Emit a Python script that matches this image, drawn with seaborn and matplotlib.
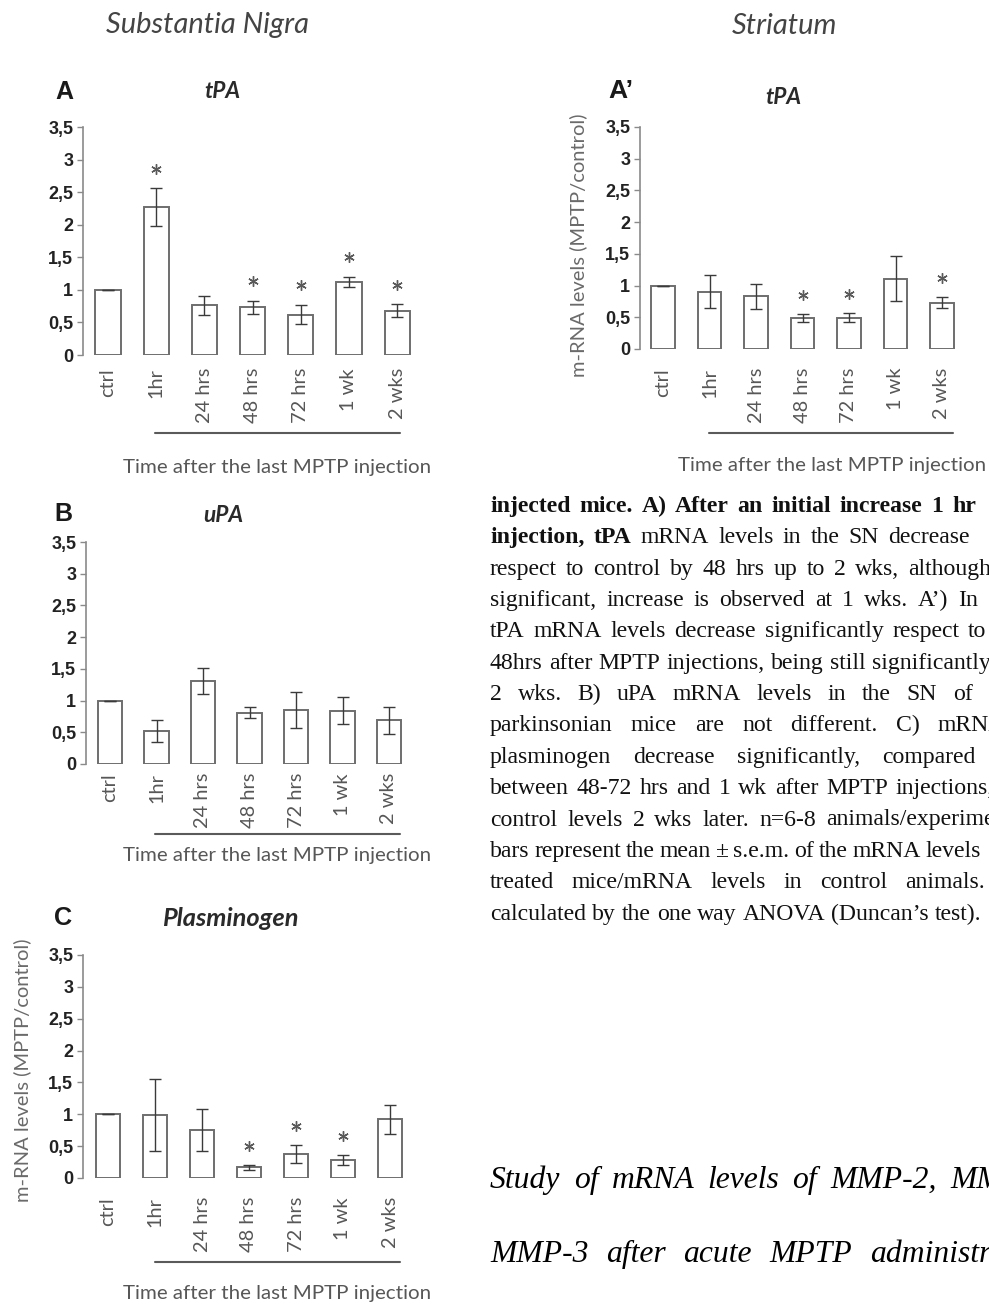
import matplotlib
matplotlib.use("Agg")
import matplotlib.pyplot as plt
from matplotlib.lines import Line2D
import seaborn as sns
import pandas as pd

W, H = 989, 1306

# ---------------- data ----------------
categories = ["ctrl", "1hr", "24 hrs", "48 hrs", "72 hrs", "1 wk", "2 wks"]

sn_tpa_mean = [1.00, 2.27, 0.76, 0.73, 0.62, 1.12, 0.68]
sn_tpa_sem = [0.00, 0.29, 0.15, 0.10, 0.15, 0.08, 0.10]
sn_tpa_sig = [0, 1, 0, 1, 1, 1, 1]

st_tpa_mean = [1.00, 0.90, 0.83, 0.49, 0.49, 1.11, 0.73]
st_tpa_sem = [0.00, 0.26, 0.20, 0.06, 0.07, 0.36, 0.09]
st_tpa_sig = [0, 0, 0, 1, 1, 0, 1]

sn_upa_mean = [1.00, 0.52, 1.31, 0.81, 0.85, 0.84, 0.69]
sn_upa_sem = [0.00, 0.18, 0.21, 0.09, 0.28, 0.21, 0.21]
sn_upa_sig = [0, 0, 0, 0, 0, 0, 0]

sn_plg_mean = [1.00, 0.99, 0.75, 0.17, 0.38, 0.28, 0.92]
sn_plg_sem = [0.00, 0.57, 0.33, 0.04, 0.14, 0.08, 0.23]
sn_plg_sig = [0, 0, 0, 1, 1, 1, 0]

y_ticks = [0, 0.5, 1, 1.5, 2, 2.5, 3, 3.5]
y_ticklabels = ["0", "0,5", "1", "1,5", "2", "2,5", "3", "3,5"]
xlabel_text = "Time after the last MPTP injection"
ylabel_text = "m-RNA levels (MPTP/control)"

caption_lines = [
    [("injected mice. A) After an initial increase 1 hr", "bold")],
    [("injection, tPA", "bold"), ("mRNA levels in the SN decrease", "normal")],
    [("respect to control by 48 hrs up to 2 wks, although", "normal")],
    [("significant, increase is observed at 1 wks. A\u2019) In", "normal")],
    [("tPA mRNA levels decrease significantly respect to", "normal")],
    [("48hrs after MPTP injections, being still significantly", "normal")],
    [("2 wks. B) uPA mRNA levels in the SN of", "normal")],
    [("parkinsonian mice are not different. C) mRNA", "normal")],
    [("plasminogen decrease significantly, compared", "normal")],
    [("between 48-72 hrs and 1 wk after MPTP injections,", "normal")],
    [("control levels 2 wks later. n=6-8 animals/experiments.", "normal")],
    [("bars represent the mean \u00b1 s.e.m. of the mRNA levels", "normal")],
    [("treated mice/mRNA levels in control animals.", "normal")],
    [("calculated by the one way ANOVA (Duncan\u2019s test).", "normal")],
]
caption_last_word_x = [952, 888, 908, 958, 968, 872, 953, 938, 882, 896, 826, 923, 905, None]
heading_lines = ["Study of mRNA levels of MMP-2, MMP-9,", "MMP-3 after acute MPTP administration"]
heading_last_word_x = [950, 870]

# ---------------- style ----------------
sns.set_style("white")
plt.rcParams["font.family"] = ["Lato", "DejaVu Sans"]

fig = plt.figure(figsize=(W / 100, H / 100), dpi=100)
fig.patch.set_facecolor("white")
renderer = fig.canvas.get_renderer()

CHART_FONT = "Lato"
GREY_TXT = "#575757"


def measure(s, size, **kw):
    t = fig.text(0, 0, s, fontsize=size, **kw)
    bb = t.get_window_extent(renderer)
    t.remove()
    return bb.width


def fitsize(s, target, **kw):
    return 12 * target / measure(s, 12, **kw)


def ftext(x, y, s, target, rotation=0, **kw):
    size = fitsize(s, target, **kw)
    fig.text(x / W, 1 - y / H, s, fontsize=size, ha="center", va="center",
             rotation=rotation, **kw)


tick_font_size = fitsize("24 hrs", 55, family=CHART_FONT)
ytick_font_size = fitsize("3,5", 25, family="Liberation Sans", weight="bold")

panels = [
    dict(mean=sn_tpa_mean, sem=sn_tpa_sem, sig=sn_tpa_sig, left=83, x0=108, sp=48.2,
         top=127, bottom=355, bw=0.52, pad=13, title="tPA", tpos=(222, 92),
         letter="A", lpos=(64, 92), hline=(155, 400, 433), xlab=(277, 468), ylab=None),
    dict(mean=st_tpa_mean, sem=st_tpa_sem, sig=st_tpa_sig, left=640, x0=663, sp=46.5,
         top=127, bottom=349, bw=0.50, pad=19, title="tPA", tpos=(783, 97),
         letter="A\u2019", lpos=(621, 91), hline=(709, 953, 433), xlab=(832, 466),
         ylab=(578, 245)),
    dict(mean=sn_upa_mean, sem=sn_upa_sem, sig=sn_upa_sig, left=86, x0=110, sp=46.5,
         top=542, bottom=764, bw=0.52, pad=9, title="uPA", tpos=(223, 515),
         letter="B", lpos=(63, 514), hline=(155, 400, 834), xlab=(277, 855), ylab=None),
    dict(mean=sn_plg_mean, sem=sn_plg_sem, sig=sn_plg_sig, left=83, x0=108, sp=47.0,
         top=955, bottom=1178, bw=0.53, pad=19, title="Plasminogen", tpos=(230, 918),
         letter="C", lpos=(63, 918), hline=(155, 400, 1262), xlab=(277, 1293),
         ylab=(22, 1070)),
]

title_targets = {"tPA": 36, "uPA": 40, "Plasminogen": 136}

for p in panels:
    xmin = -(p["x0"] - p["left"]) / p["sp"]
    xmax = 6.55
    width = (xmax - xmin) * p["sp"]
    ax = fig.add_axes([p["left"] / W, 1 - p["bottom"] / H, width / W,
                       (p["bottom"] - p["top"]) / H])
    ax.set_facecolor("none")
    df = pd.DataFrame({"time": categories, "level": p["mean"], "sem": p["sem"]})
    sns.barplot(data=df, x="time", y="level", order=categories, ax=ax, color="white",
                edgecolor="#6e6e6e", linewidth=1.4, width=p["bw"], errorbar=None)
    for patch in ax.patches:
        patch.set_facecolor("white")
    xs = list(range(len(categories)))
    ax.errorbar(xs, df["level"], yerr=df["sem"], fmt="none", ecolor="#3a3a3a",
                elinewidth=1.0, capsize=4, capthick=1.0)
    sx = [x for x, s in zip(xs, p["sig"]) if s]
    sy = [m + e + 0.3 for m, e, s in zip(p["mean"], p["sem"], p["sig"]) if s]
    if sx:
        ax.plot(sx, sy, ls="none", marker=(6, 2, 0), ms=7.5, mew=1.0, color="#5a5a5a")
    ax.set_xlim(xmin, xmax)
    ax.set_ylim(0, 3.5)
    ax.set_yticks(y_ticks)
    ax.set_yticklabels(y_ticklabels, fontfamily="Liberation Sans", fontweight="bold",
                       fontsize=ytick_font_size, color="#222222")
    ax.tick_params(axis="y", direction="out", length=4, width=1, color="#8a8a8a",
                   pad=3, left=True)
    ax.set_xticks(xs)
    ax.set_xticklabels(categories, rotation=90, fontfamily=CHART_FONT,
                       fontsize=tick_font_size, color=GREY_TXT, va="top", ha="center")
    ax.tick_params(axis="x", length=0, pad=p["pad"] * 0.72)
    ax.set_xlabel("")
    ax.set_ylabel("")
    for side in ["top", "right", "bottom"]:
        ax.spines[side].set_visible(False)
    ax.spines["left"].set_color("#8a8a8a")
    ax.spines["left"].set_linewidth(1.2)

    # title and panel letter
    ftext(p["tpos"][0], p["tpos"][1], p["title"], title_targets[p["title"]],
          family=CHART_FONT, weight="bold", style="italic", color="#2a2a2a")
    ftext(p["lpos"][0], p["lpos"][1], p["letter"],
          18 if p["letter"] != "A\u2019" else 25,
          family="Liberation Sans", weight="bold", color="#1a1a1a")
    # line under the time categories and xlabel
    x1, x2, yl = p["hline"]
    fig.add_artist(Line2D([x1 / W, x2 / W], [1 - yl / H, 1 - yl / H], color="#5a5a5a",
                          lw=1.5, transform=fig.transFigure))
    ftext(p["xlab"][0], p["xlab"][1], xlabel_text, 307, family=CHART_FONT,
          color=GREY_TXT)
    if p["ylab"]:
        ftext(p["ylab"][0], p["ylab"][1], ylabel_text, 263, rotation=90,
              family=CHART_FONT, color="#6a6a6a")

# region headings
ftext(208, 25, "Substantia Nigra", 202, family=CHART_FONT, style="italic", color="#444444")
ftext(784, 26, "Striatum", 105, family=CHART_FONT, style="italic", color="#444444")

# ---------------- caption text ----------------
SERIF = "Liberation Serif"
cap_size = fitsize("calculated by the one way ANOVA (Duncan\u2019s test).", 489, family=SERIF)


def place_justified(segments, x0, x_last, yb, size, style="normal", color="#111111"):
    words = []
    for txt, wt in segments:
        for w in txt.split(" "):
            words.append((w, wt))
    widths = [measure(w, size, family=SERIF, weight=wt, style=style) for w, wt in words]
    natural = measure("a b", size, family=SERIF, style=style) - measure("ab", size, family=SERIF, style=style)
    if x_last is None:
        gap = natural
    else:
        gap = (x_last - x0 - sum(widths[:-1])) / (len(words) - 1)
        gap = max(gap, natural * 0.8)
    x = x0
    for (w, wt), wd in zip(words, widths):
        fig.text(x / W, 1 - yb / H, w, fontsize=size, family=SERIF, weight=wt, style=style,
                 ha="left", va="baseline", color=color)
        x += wd + gap


for i, (segs, xl) in enumerate(zip(caption_lines, caption_last_word_x)):
    place_justified(segs, 490, xl, 512 + 31.35 * i, cap_size)

# heading size: the first six words of the heading occupy about 380 px of ink
head_words = heading_lines[0].split(" ")[:6]
head_size = 12 * 380 / sum(measure(w, 12, family=SERIF, style="italic") for w in head_words)
for i, (line, xl) in enumerate(zip(heading_lines, heading_last_word_x)):
    place_justified([(line, "normal")], 490, xl, 1188 + 74 * i, head_size, style="italic",
                    color="#000000")

fig.savefig("out.png", dpi=100, facecolor="white")
